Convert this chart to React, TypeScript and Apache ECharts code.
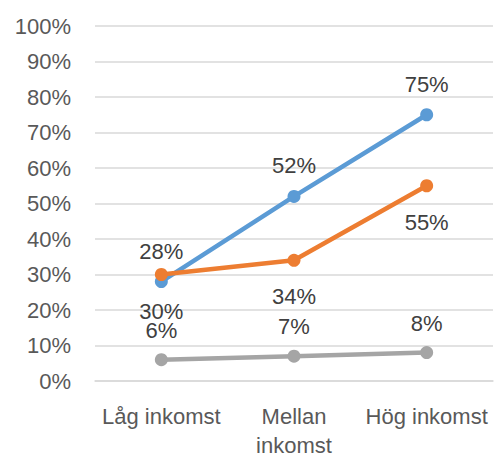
import React, { useEffect, useRef } from "react";
import * as echarts from "echarts";

const categories = ["Låg inkomst", "Mellan\ninkomst", "Hög inkomst"];
const blueValues = [28, 52, 75];
const orangeValues = [30, 34, 55];
const grayValues = [6, 7, 8];
const yTicks = { min: 0, max: 100, interval: 10 };

const FONT = "'Liberation Sans', Arial, sans-serif";

export default function App() {
  const ref = useRef<HTMLDivElement>(null);
  useEffect(() => {
    if (!ref.current) return;
    const chart = echarts.init(ref.current, undefined, { renderer: "svg" });
    const labelBase = {
      show: true,
      fontSize: 22,
      fontFamily: FONT,
      color: "#404040",
      formatter: (p: any) => `${p.value}%`,
    };
    const mk = (name: string, data: number[], color: string, pos: string, dist: number) => ({
      name,
      type: "line",
      data,
      symbol: "circle",
      symbolSize: 13,
      lineStyle: { color, width: 4.5 },
      itemStyle: { color },
      label: { ...labelBase, position: pos, distance: dist },
    });
    chart.setOption({
      animation: false,
      grid: { left: 95, right: 2, top: 26, bottom: 75, containLabel: false },
      xAxis: {
        type: "category",
        data: categories,
        axisLine: { show: true, lineStyle: { color: "#D9D9D9", width: 1.5 } },
        axisTick: { show: false },
        axisLabel: {
          fontSize: 22,
          fontFamily: FONT,
          color: "#595959",
          margin: 21,
          lineHeight: 29,
          interval: 0,
        },
      },
      yAxis: {
        type: "value",
        min: yTicks.min,
        max: yTicks.max,
        interval: yTicks.interval,
        axisLine: { show: false },
        axisTick: { show: false },
        splitLine: { lineStyle: { color: "#D9D9D9", width: 1.5 } },
        axisLabel: {
          fontSize: 22,
          fontFamily: FONT,
          color: "#595959",
          margin: 24,
          formatter: "{value}%",
        },
      },
      series: [
        mk("Blå", blueValues, "#5B9BD5", "top", 13),
        mk("Orange", orangeValues, "#ED7D31", "bottom", 19),
        mk("Grå", grayValues, "#A5A5A5", "top", 12),
      ],
    });
    return () => chart.dispose();
  }, []);
  return (
    <div
      ref={ref}
      style={{ position: "fixed", left: 0, top: 0, width: 495, height: 460, background: "#fff" }}
    />
  );
}
